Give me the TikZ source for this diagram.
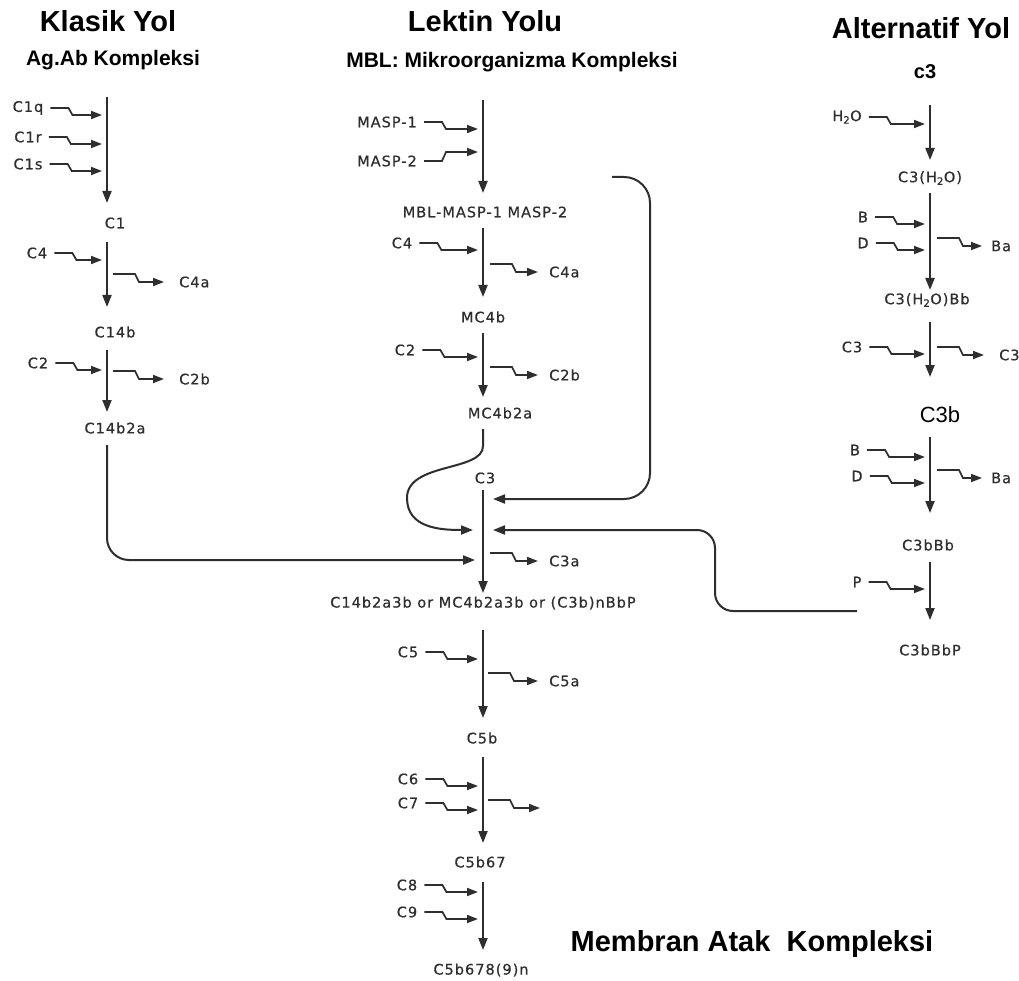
\documentclass[tikz,border=0pt]{standalone}
\usepackage{fontspec}
\setmainfont{Liberation Sans}
\newfontfamily\lblfont{DejaVu Sans}[LetterSpace=7,FakeBold=0.6]
\usetikzlibrary{arrows.meta}
\definecolor{ln}{HTML}{2E2E2E}

\begin{document}
\begin{tikzpicture}[x=1pt,y=-1pt,
  lbl/.style={font=\lblfont\fontsize{14.5}{16}\selectfont,text=ln,inner sep=1pt},
  hd/.style={font=\bfseries\fontsize{29}{32}\selectfont,inner sep=0pt},
  sub/.style={font=\bfseries\fontsize{21}{24}\selectfont,inner sep=0pt},
  flow/.style={draw=ln,line width=2pt,-{Triangle[length=12pt,width=9pt]}},
  inwig/.style={draw=ln,line width=1.7pt,-{Triangle[length=11pt,width=8pt]},shorten <=6pt,
    to path={-- ++(24,0) -- ++(4,#1) -- (\tikztotarget)}},
  inwig/.default=7,
  outwig/.style={draw=ln,line width=1.7pt,-{Triangle[length=11pt,width=8pt]},
    to path={-- ++(22,0) -- ++(4,#1) -- (\tikztotarget)}},
  outwig/.default=8]

\path[fill=white,use as bounding box] (0,0) rectangle (1019,981);

\node[hd] (klasik) at (108,21) {Klasik Yol};
\node[sub] (agab) at (113,60) {Ag.Ab Kompleksi};
\node[hd] (lektin) at (485,21) {Lektin Yolu};
\node[sub] (mbl) at (512,62) {MBL: Mikroorganizma Kompleksi};
\node[hd] (alt) at (921,28) {Alternatif Yol};
\node[font=\bfseries\fontsize{20}{22}\selectfont] (c3top) at (925,72) {c3};
\node[hd] (mak) at (752,944) {Membran Atak\ \ Kompleksi};

\coordinate (k1top) at (107,97);
\coordinate (k1bot) at (107,203);
\draw[flow] (k1top) -- (k1bot);
\node[lbl] (c1q) at (28,108) {C1q};
\node[lbl] (c1r) at (28,137) {C1r};
\node[lbl] (c1s) at (28,164) {C1s};
\coordinate (c1qin) at (102,115);
\coordinate (c1rin) at (102,144);
\coordinate (c1sin) at (102,171);
\draw[inwig] (c1q.east) to (c1qin);
\draw[inwig] (c1r.east) to (c1rin);
\draw[inwig] (c1s.east) to (c1sin);
\node[lbl] (c1) at (115,223) {C1};

\coordinate (k2top) at (107,242);
\coordinate (k2bot) at (107,307);
\draw[flow] (k2top) -- (k2bot);
\node[lbl] (c4l) at (37,253) {C4};
\coordinate (c4lin) at (102,260);
\draw[inwig] (c4l.east) to (c4lin);
\coordinate (k2out) at (113,274);
\node[lbl,anchor=west] (c4al) at (178,282) {C4a};
\draw[outwig] (k2out) to ([xshift=-14pt]c4al.west);
\node[lbl] (c14b) at (115,332) {C14b};

\coordinate (k3top) at (107,350);
\coordinate (k3bot) at (107,412);
\draw[flow] (k3top) -- (k3bot);
\node[lbl] (c2l) at (38,363) {C2};
\coordinate (c2lin) at (102,370);
\draw[inwig] (c2l.east) to (c2lin);
\coordinate (k3out) at (113,371);
\node[lbl,anchor=west] (c2bl) at (178,379) {C2b};
\draw[outwig] (k3out) to ([xshift=-14pt]c2bl.west);
\node[lbl] (c14b2a) at (115,428) {C14b2a};

\coordinate (m1top) at (483,100);
\coordinate (m1bot) at (483,193);
\draw[flow] (m1top) -- (m1bot);
\node[lbl] (masp1) at (387,122) {MASP-1};
\node[lbl] (masp2) at (387,161) {MASP-2};
\coordinate (masp1in) at (478,129);
\coordinate (masp2in) at (478,152);
\draw[inwig] (masp1.east) to (masp1in);
\draw[inwig=-9] (masp2.east) to (masp2in);
\node[lbl] (mblmasp) at (485,212) {MBL-MASP-1 MASP-2};

\coordinate (m2top) at (483,228);
\coordinate (m2bot) at (483,297);
\draw[flow] (m2top) -- (m2bot);
\node[lbl] (c4m) at (402,243) {C4};
\coordinate (c4min) at (478,250);
\draw[inwig] (c4m.east) to (c4min);
\coordinate (m2out) at (490,264);
\node[lbl,anchor=west] (c4am) at (548,272) {C4a};
\draw[outwig] (m2out) to ([xshift=-10pt]c4am.west);
\node[lbl] (mc4b) at (483,317) {MC4b};

\coordinate (m3top) at (483,333);
\coordinate (m3bot) at (483,397);
\draw[flow] (m3top) -- (m3bot);
\node[lbl] (c2m) at (405,350) {C2};
\coordinate (c2min) at (478,357);
\draw[inwig] (c2m.east) to (c2min);
\coordinate (m3out) at (490,367);
\node[lbl,anchor=west] (c2bm) at (548,375) {C2b};
\draw[outwig] (m3out) to ([xshift=-10pt]c2bm.west);
\node[lbl] (mc4b2a) at (500,413) {MC4b2a};

\node[lbl] (c3m) at (485,478) {C3};
\coordinate (m4top) at (483,490);
\coordinate (m4bot) at (483,593);
\draw[flow] (m4top) -- (m4bot);
\coordinate (mloop) at (483,429);
\coordinate (m4d) at (473,530);
\draw[flow] (mloop) -- (483,446) .. controls (483,472) and (407,462) .. (407,498)
  .. controls (407,528) and (440,530) .. (m4d);
\coordinate (lekfree) at (612,177);
\coordinate (m4a) at (493,499);
\draw[flow,rounded corners=26pt] (lekfree) -- ++(38,0) |- (m4a);
\coordinate (altfree) at (857,611);
\coordinate (m4b) at (493,530);
\draw[flow,rounded corners=18pt] (altfree) -- ++(-142,0) |- (m4b);
\coordinate (k3end) at (107,445);
\coordinate (m4c) at (475,560);
\draw[flow,rounded corners=22pt] (k3end) |- (m4c);
\coordinate (m4out) at (490,553);
\node[lbl,anchor=west] (c3am) at (548,561) {C3a};
\draw[outwig] (m4out) to ([xshift=-10pt]c3am.west);
\node[lbl] (c3conv) at (483,603) {C14b2a3b or MC4b2a3b or (C3b)nBbP};

\coordinate (m5top) at (483,630);
\coordinate (m5bot) at (483,718);
\draw[flow] (m5top) -- (m5bot);
\node[lbl] (c5) at (408,652) {C5};
\coordinate (c5in) at (478,659);
\draw[inwig] (c5.east) to (c5in);
\coordinate (m5out) at (488,673);
\node[lbl,anchor=west] (c5a) at (548,681) {C5a};
\draw[outwig] (m5out) to ([xshift=-10pt]c5a.west);
\node[lbl] (c5b) at (482,738) {C5b};

\coordinate (m6top) at (483,757);
\coordinate (m6bot) at (483,843);
\draw[flow] (m6top) -- (m6bot);
\node[lbl] (c6) at (408,779) {C6};
\node[lbl] (c7) at (408,803) {C7};
\coordinate (c6in) at (478,786);
\coordinate (c7in) at (478,810);
\draw[inwig] (c6.east) to (c6in);
\draw[inwig] (c7.east) to (c7in);
\coordinate (m6out) at (488,800);
\coordinate (m6free) at (540,808);
\draw[outwig] (m6out) to (m6free);
\node[lbl] (c5b67) at (480,862) {C5b67};

\coordinate (m7top) at (483,882);
\coordinate (m7bot) at (483,950);
\draw[flow] (m7top) -- (m7bot);
\node[lbl] (c8) at (407,885) {C8};
\node[lbl] (c9) at (407,912) {C9};
\coordinate (c8in) at (478,892);
\coordinate (c9in) at (478,919);
\draw[inwig] (c8.east) to (c8in);
\draw[inwig] (c9.east) to (c9in);
\node[lbl] (c5b678) at (481,970) {C5b678(9)n};

\coordinate (r1top) at (930,105);
\coordinate (r1bot) at (930,160);
\draw[flow] (r1top) -- (r1bot);
\node[lbl] (h2o) at (847,117) {H\textsubscript{2}O};
\coordinate (h2oin) at (925,124);
\draw[inwig] (h2o.east) to (h2oin);
\node[lbl] (c3h2o) at (930,178) {C3(H\textsubscript{2}O)};

\coordinate (r2top) at (930,193);
\coordinate (r2bot) at (930,290);
\draw[flow] (r2top) -- (r2bot);
\node[lbl] (b1) at (863,217) {B};
\node[lbl] (d1) at (863,243) {D};
\coordinate (b1in) at (925,224);
\coordinate (d1in) at (925,250);
\draw[inwig] (b1.east) to (b1in);
\draw[inwig] (d1.east) to (d1in);
\coordinate (r2out) at (937,238);
\node[lbl,anchor=west] (ba1) at (990,246) {Ba};
\draw[outwig] (r2out) to ([xshift=-8pt]ba1.west);
\node[lbl] (c3h2obb) at (927,300) {C3(H\textsubscript{2}O)Bb};

\coordinate (r3top) at (930,322);
\coordinate (r3bot) at (930,377);
\draw[flow] (r3top) -- (r3bot);
\node[lbl] (c3r) at (852,347) {C3};
\coordinate (c3rin) at (925,354);
\draw[inwig] (c3r.east) to (c3rin);
\coordinate (r3out) at (937,347);
\node[lbl,anchor=west] (c3ro) at (998,355) {C3};
\draw[outwig] (r3out) to ([xshift=-14pt]c3ro.west);
\node[font=\fontsize{22}{24}\selectfont] (c3b) at (940,415) {C3b};

\coordinate (r4top) at (930,437);
\coordinate (r4bot) at (930,513);
\draw[flow] (r4top) -- (r4bot);
\node[lbl] (b2) at (855,450) {B};
\node[lbl] (d2) at (857,476) {D};
\coordinate (b2in) at (925,457);
\coordinate (d2in) at (925,483);
\draw[inwig] (b2.east) to (b2in);
\draw[inwig] (d2.east) to (d2in);
\coordinate (r4out) at (937,470);
\node[lbl,anchor=west] (ba2) at (990,478) {Ba};
\draw[outwig] (r4out) to ([xshift=-8pt]ba2.west);
\node[lbl] (c3bbb) at (928,545) {C3bBb};

\coordinate (r5top) at (930,562);
\coordinate (r5bot) at (930,620);
\draw[flow] (r5top) -- (r5bot);
\node[lbl] (p) at (857,582) {P};
\coordinate (pin) at (925,589);
\draw[inwig] (p.east) to (pin);
\node[lbl] (c3bbbp) at (930,650) {C3bBbP};

\end{tikzpicture}
\end{document}
